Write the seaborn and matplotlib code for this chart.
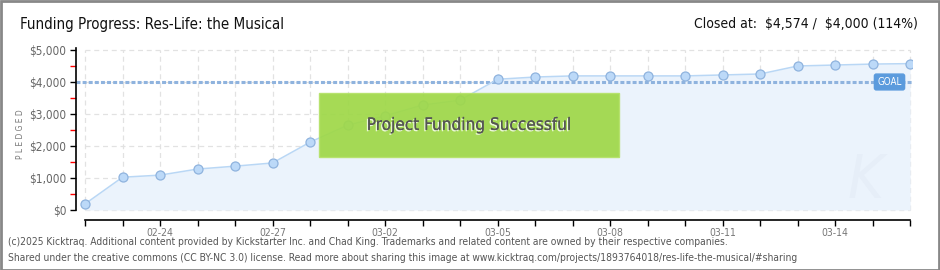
import matplotlib
matplotlib.use("Agg")
import matplotlib.pyplot as plt
import matplotlib.patches as mpatches
import matplotlib.patheffects as pe
import seaborn as sns
import pandas as pd
import numpy as np

dates = ["02-22", "02-23", "02-24", "02-25", "02-26", "02-27", "02-28", "03-01",
         "03-02", "03-03", "03-04", "03-05", "03-06", "03-07", "03-08", "03-09",
         "03-10", "03-11", "03-12", "03-13", "03-14", "03-15", "03-16"]
pledged = [190, 1025, 1090, 1280, 1370, 1470, 2120, 2650, 2940, 3280, 3430, 4085,
           4155, 4190, 4190, 4190, 4190, 4220, 4250, 4500, 4530, 4560, 4574]
goal = 4000
ytick_vals = [0, 1000, 2000, 3000, 4000, 5000]
ytick_labels = ["$0", "$1,000", "$2,000", "$3,000", "$4,000", "$5,000"]
xtick_labels = ["02-24", "02-27", "03-02", "03-05", "03-08", "03-11", "03-14"]

df = pd.DataFrame({"day": np.arange(len(dates)), "date": dates, "pledged": pledged})

sns.set_theme(style="white")
plt.rcParams["font.family"] = ["DejaVu Sans"]
plt.rcParams["font.stretch"] = "condensed"

W, H = 940, 270
fig = plt.figure(figsize=(W / 100, H / 100), dpi=100)
ax = fig.add_axes([76 / W, 1 - 220 / H, (912 - 76) / W, (220 - 48) / H])

n = len(dates)
ax.set_xlim(-0.24, n - 1 + 0.05)
ax.set_ylim(-312, 5062)

# grid
for d in df["day"]:
    ax.plot([d, d], [0, 5000], color="#e2e2e2", lw=0.9, ls=(0, (4, 3)), zorder=0)
for v in ytick_vals:
    ax.plot([df["day"].iloc[0], df["day"].iloc[-1]], [v, v], color="#e2e2e2", lw=0.9,
            ls=(0, (4, 3)), zorder=0)

# fill
ax.fill_between(df["day"], 0, df["pledged"], color="#ebf3fc", zorder=1, lw=0)

# watermark
ax.text(n - 2.2, 900, "K", fontsize=44, color="#e6eef8", fontstyle="italic",
        ha="center", va="center", zorder=1)

# goal line
ax.axhline(goal, color="#8fb3de", lw=2.2, ls=(0, (1.3, 0.7)), zorder=2)

sns.lineplot(data=df, x="day", y="pledged", ax=ax, color="#b9d7f5", lw=1.1,
             marker="o", markersize=6.5, markerfacecolor="#bcd9f8",
             markeredgecolor="#8fb3de", markeredgewidth=0.9, zorder=3)

# GOAL label
ax.text(n - 1.55, goal, "GOAL", fontsize=7, color="white", ha="center", va="center",
        zorder=6,
        bbox=dict(boxstyle="round,pad=0.3,rounding_size=0.2", fc="#5b9bdd", ec="#5b9bdd"))

# success box
ax.add_patch(mpatches.Rectangle((6.25, 1650), 8.0, 2020, transform=ax.transData,
                                facecolor="#9fd848", edgecolor="#b5e26a", lw=1,
                                alpha=0.93, zorder=4))
ax.text(10.25, 2660, "Project Funding Successful", fontsize=12.3, color="#555555",
        ha="center", va="center", zorder=5,
        path_effects=[pe.withSimplePatchShadow(offset=(-1, -1), shadow_rgbFace="white", alpha=0.8),
                      pe.Normal()])

# axes styling
for s in ["top", "right"]:
    ax.spines[s].set_visible(False)
ax.spines["left"].set_color("black")
ax.spines["bottom"].set_color("black")
ax.spines["left"].set_linewidth(1.2)
ax.spines["bottom"].set_linewidth(1.2)
ax.spines["left"].set_bounds(0, 5062)
ax.spines["bottom"].set_bounds(0, n - 1)

ax.set_yticks(ytick_vals)
ax.set_yticklabels(ytick_labels)
ax.set_yticks([500, 1500, 2500, 3500, 4500], minor=True)
ax.tick_params(axis="y", which="major", left=True, length=4, width=1, color="black",
               labelsize=8.5, labelcolor="#666666", pad=3)
ax.tick_params(axis="y", which="minor", left=True, length=4, width=1, color="red")

ax.set_xticks(df["day"])
ax.set_xticklabels([d if d in xtick_labels else "" for d in dates])
ax.tick_params(axis="x", which="major", bottom=True, length=4, width=1, color="black",
               labelsize=7.5, labelcolor="#777777", pad=2, direction="out")
ax.xaxis.set_ticks_position("bottom")
ax.set_xlabel("")
ax.set_ylabel("P L E D G E D", fontsize=6, color="#777777", labelpad=3)

# titles
fig.text(20 / W, 1 - 24 / H, "Funding Progress: Res-Life: the Musical", fontsize=10.8,
         color="#111111", ha="left", va="center")
fig.text(918 / W, 1 - 24 / H, r"Closed at:  \$4,574 /  \$4,000 (114%)", fontsize=10,
         color="#111111", ha="right", va="center")

fig.text(8 / W, 1 - 242 / H,
         "(c)2025 Kicktraq. Additional content provided by Kickstarter Inc. and Chad King. Trademarks and related content are owned by their respective companies.",
         fontsize=7.4, color="#555555", ha="left", va="center")
fig.text(8 / W, 1 - 258 / H,
         "Shared under the creative commons (CC BY-NC 3.0) license. Read more about sharing this image at www.kicktraq.com/projects/1893764018/res-life-the-musical/#sharing",
         fontsize=7.4, color="#555555", ha="left", va="center")

# border
fig.add_artist(mpatches.Rectangle((0.5 / W, 0.5 / H), 1 - 1.5 / W, 1 - 1.5 / H,
                                  transform=fig.transFigure, fill=False,
                                  edgecolor="#888888", lw=2))

fig.savefig("out.png", dpi=100)
